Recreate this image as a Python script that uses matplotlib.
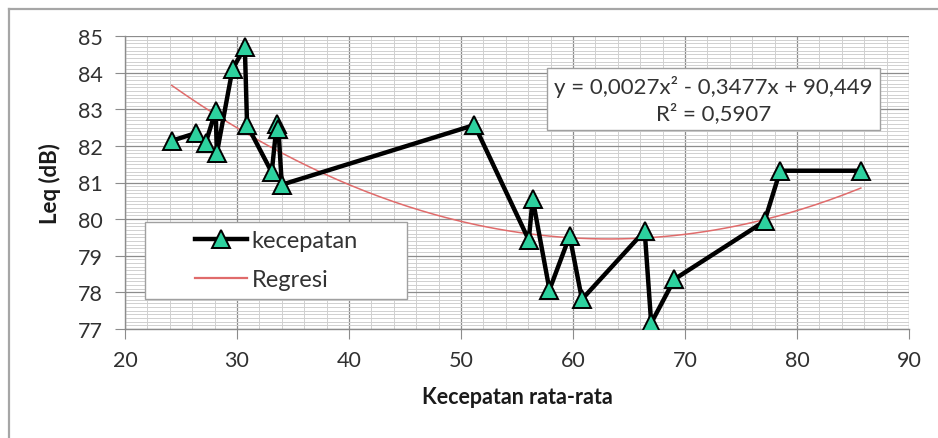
import numpy as np
import matplotlib
matplotlib.use("Agg")
import matplotlib.pyplot as plt
from matplotlib.ticker import MultipleLocator
from matplotlib.lines import Line2D
from matplotlib.patches import Rectangle

plt.rcParams['font.family'] = ['Lato', 'DejaVu Sans']

# data
speed = [24.17, 26.35, 27.2, 28.1, 28.2, 29.6, 30.7, 30.9, 33.1, 33.55, 33.7, 34.0,
         51.2, 56.05, 56.4, 57.9, 59.7, 60.8, 66.4, 66.98, 69.06, 77.1, 78.5, 85.7]
leq = [82.14, 82.35, 82.08, 82.96, 81.8, 84.1, 84.69, 82.57, 81.28, 82.6, 82.46, 80.94,
       82.57, 79.43, 80.55, 78.07, 79.54, 77.81, 79.68, 77.16, 78.36, 79.94, 81.32, 81.32]
# trendline coefficients (unrounded quadratic term as drawn; label shows rounded)
coef_a, coef_b, coef_c = 0.00275, -0.3477, 90.449
eq_label = "y = 0,0027x² - 0,3477x + 90,449\nR² = 0,5907"
x_ticks = [20, 30, 40, 50, 60, 70, 80, 90]
y_ticks = [77, 78, 79, 80, 81, 82, 83, 84, 85]
legend_labels = ['kecepatan', 'Regresi']

W, H = 938, 439
fig = plt.figure(figsize=(W / 100, H / 100), dpi=100)

# outer frame
fig.add_artist(Line2D([9 / W, 9 / W], [0, 1 - 10 / H], transform=fig.transFigure,
                      color='#a6a6a6', lw=1.6))
fig.add_artist(Line2D([9 / W, 1], [1 - 10 / H, 1 - 10 / H], transform=fig.transFigure,
                      color='#a6a6a6', lw=1.6))

L, R, T, B = 125, 909, 37, 330
ax = fig.add_axes([L / W, 1 - B / H, (R - L) / W, (B - T) / H])

def ax_xy(px, py):
    return (px - L) / (R - L), (B - py) / (B - T)

# regression curve
xr = np.linspace(min(speed), max(speed), 200)
yr = coef_a * xr ** 2 + coef_b * xr + coef_c

green = '#2dd19e'
ax.plot(xr, yr, color='#e06b6b', lw=1.1, zorder=3)
ax.plot(speed, leq, color='black', lw=3.2, marker='^', markersize=12.5,
        markerfacecolor=green, markeredgecolor='black', markeredgewidth=1.4,
        zorder=4)

ax.set_xlim(20, 90)
ax.set_ylim(77, 85)
ax.set_xticks(x_ticks)
ax.set_yticks(y_ticks)
ax.xaxis.set_minor_locator(MultipleLocator(2))
ax.yaxis.set_minor_locator(MultipleLocator(0.1))
ax.grid(which='major', color='#8c8c8c', lw=0.9, zorder=1)
ax.grid(which='minor', color='#d0d0d0', lw=0.7, zorder=0)
ax.set_axisbelow(True)

for s in ['top', 'right']:
    ax.spines[s].set_visible(False)
for s in ['left', 'bottom']:
    ax.spines[s].set_color('#8c8c8c')
    ax.spines[s].set_linewidth(1.0)

ax.tick_params(axis='both', which='major', length=7, color='#8c8c8c',
               labelsize=15.5, labelcolor='#303030', direction='out')
ax.tick_params(axis='both', which='minor', length=0)
ax.tick_params(axis='y', pad=9)
ax.tick_params(axis='x', pad=8)

ax.set_xlabel('Kecepatan rata-rata', fontsize=15.5, fontweight='bold', labelpad=12, color='#1a1a1a')
ax.set_ylabel('Leq (dB)', fontsize=16, fontweight='bold', labelpad=12, color='#1a1a1a')

# legend box
x0, y0 = ax_xy(145, 300)
x1, y1 = ax_xy(407, 223)
ax.add_patch(Rectangle((x0, y0), x1 - x0, y1 - y0, transform=ax.transAxes,
                       facecolor='white', edgecolor='#a0a0a0', lw=1.0, zorder=6))
handles = [Line2D([], [], color='black', lw=3.2, marker='^', markersize=12.5,
                  markerfacecolor=green, markeredgecolor='black', markeredgewidth=1.4),
           Line2D([], [], color='#e06b6b', lw=1.6)]
lx, ly = ax_xy(195, 231)
leg = ax.legend(handles, legend_labels, loc='upper left', bbox_to_anchor=(lx, ly),
                fontsize=17, frameon=False, handlelength=2.2, handletextpad=0.2,
                borderpad=0, labelspacing=0.78, borderaxespad=0)
leg.set_zorder(7)
for t in leg.get_texts():
    t.set_color('#333333')

# equation box
ex, ey = ax_xy(713.5, 100)
ax.text(ex, ey, eq_label, transform=ax.transAxes,
        ha='center', va='center', fontsize=16, color='#333333', multialignment='center',
        linespacing=1.3, zorder=7,
        bbox=dict(boxstyle='square,pad=0.33', facecolor='white', edgecolor='#a0a0a0', lw=1.0))

fig.savefig('out.png', dpi=100)
